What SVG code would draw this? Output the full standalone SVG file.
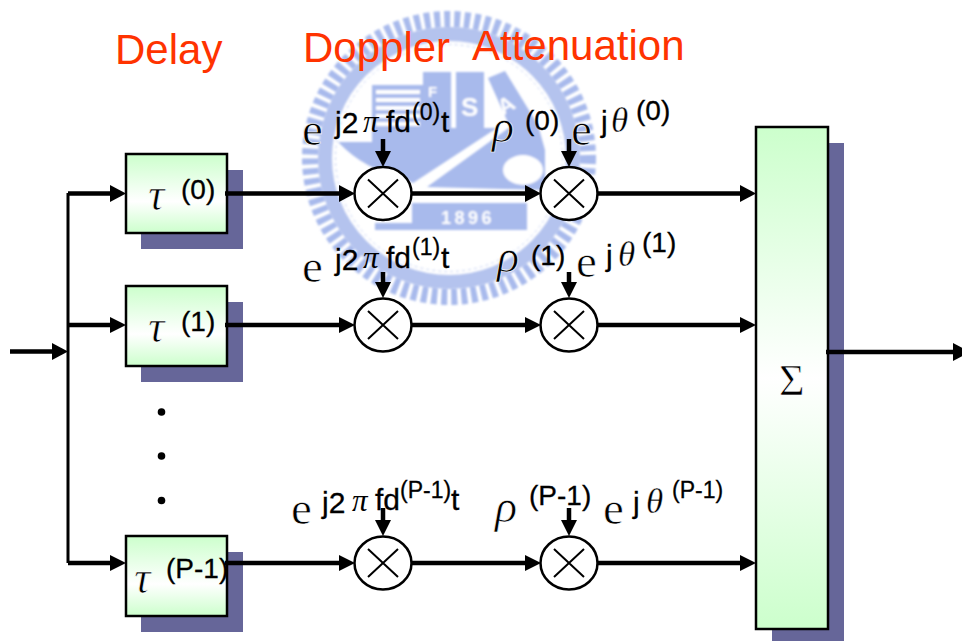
<svg xmlns="http://www.w3.org/2000/svg" width="962" height="641" viewBox="0 0 962 641">
<defs>
<linearGradient id="g" x1="0" y1="0" x2="0" y2="1"><stop offset="0" stop-color="#ccffcc"/><stop offset="0.6" stop-color="#ffffff"/><stop offset="1" stop-color="#ccffcc"/></linearGradient>
<linearGradient id="gs" x1="0" y1="0" x2="0" y2="1"><stop offset="0" stop-color="#ccffcc"/><stop offset="0.5" stop-color="#ffffff"/><stop offset="1" stop-color="#ccffcc"/></linearGradient>
<filter id="soft" x="-5%" y="-5%" width="110%" height="110%"><feGaussianBlur stdDeviation="0.9"/></filter>
<g id="mul"><ellipse cx="0" cy="0" rx="28.5" ry="26.5" fill="#fff" stroke="#000" stroke-width="2.5"/><path d="M-15,-14L15,14M15,-14L-15,14" stroke="#000" stroke-width="2" fill="none"/></g>
</defs>
<style>
.w{fill:#a8baec}
.shadow{fill:#666699}
.box{stroke:#000;stroke-width:2.5}
.c{stroke:#000;stroke-width:4.5;fill:none}
.ar{fill:#000}
.t{font-family:"Liberation Sans",Arial,sans-serif;fill:#000;stroke:#000;stroke-width:0.3px}
.s{font-size:30px}
.u{font-size:28px}
.n{font-size:23px}
.m{font-family:"Liberation Serif","DejaVu Serif",serif;fill:#000;stroke:#fff;stroke-width:0.7px}
.e{font-size:47px}
.g{font-style:italic;font-size:46px}
.th{font-style:italic;font-size:35px;stroke-width:0.3px}
.p{font-style:italic;font-size:31px;stroke:none}
.h{font-family:"Liberation Sans",Arial,sans-serif;font-size:42px;fill:#ff3300}
.wt{font-family:"Liberation Sans",Arial,sans-serif;font-weight:bold;fill:#fff}
</style>
<g id="watermark" filter="url(#soft)">
<circle cx="449" cy="158" r="139" fill="none" stroke="#a8baec" stroke-width="16" stroke-dasharray="6 4"/>
<circle cx="449" cy="158" r="124" fill="none" stroke="#b4c3ee" stroke-width="14"/>
<circle cx="449" cy="158" r="113.500" fill="none" stroke="#c4d0f2" stroke-width="1" stroke-dasharray="3 3"/>
<path class="w" d="M338,142H372V85H423V72H451V128H497L413,183L400,176Q365,170 338,142Z"/>
<g fill="#fff"><rect x="376" y="90" width="44" height="4"/><rect x="376" y="98" width="44" height="4"/><rect x="376" y="106" width="44" height="4"/><rect x="376" y="114" width="44" height="4"/><rect x="376" y="122" width="44" height="4"/></g>
<rect class="w" x="456" y="72" width="28" height="56"/>
<path class="w" d="M427,187L510,127L488,78L505,71L538,125L545,150L545,190Z"/>
<ellipse cx="523" cy="170" rx="20" ry="15" fill="#fff"/>
<path class="w" d="M412,203H527V230H375V223H412Z"/>
<text class="wt" x="428" y="97" font-size="15">F</text>
<text class="wt" x="461" y="116" font-size="26">S</text>
<text class="wt" x="498" y="113" font-size="22" transform="rotate(-30 505 105)">A</text>
<text class="wt" x="441" y="224" font-size="18" letter-spacing="3.500">1896</text>
</g>
<g id="connectors">
<path class="c" d="M10,351.500H56M68,193.500H114M68,325H114M68,563H114M225,193.500H341M225,325H341M225,563H341M412,193.500H527M412,325H527M412,563H527M598,193.500H742M598,325H742M598,563H742M826,352H955"/>
<path d="M68,193V563" stroke="#000" stroke-width="3" fill="none"/>
<path class="c" d="M383,139V155M569,139V155M383,272V286M569,272V286M383,508V524M569,508V524"/>
<g class="ar">
<path d="M52,343L68,351.500L52,360Z"/>
<path d="M110,185L126,193.500L110,202Z"/><path d="M110,317L126,325L110,333Z"/><path d="M110,555L126,563L110,571Z"/>
<path d="M339,185L355,193.500L339,202Z"/><path d="M339,317L355,325L339,333Z"/><path d="M339,555L355,563L339,571Z"/>
<path d="M525,185L541,193.500L525,202Z"/><path d="M525,317L541,325L525,333Z"/><path d="M525,555L541,563L525,571Z"/>
<path d="M740,185L756,193.500L740,202Z"/><path d="M740,317L756,325L740,333Z"/><path d="M740,555L756,563L740,571Z"/>
<path d="M953,343L970,352L953,361Z"/>
<path d="M375,151L391,151L383,167Z"/><path d="M561,151L577,151L569,167Z"/>
<path d="M375,282L391,282L383,298Z"/><path d="M561,282L577,282L569,298Z"/>
<path d="M375,520L391,520L383,536Z"/><path d="M561,520L577,520L569,536Z"/>
</g>
</g>
<g id="delay0"><rect class="shadow" x="141" y="170" width="102" height="79"/><rect class="box" fill="url(#g)" x="126" y="154" width="101" height="79"/></g>
<g id="delay1"><rect class="shadow" x="141" y="302" width="102" height="80"/><rect class="box" fill="url(#g)" x="126" y="286" width="101" height="80"/></g>
<g id="delayP"><rect class="shadow" x="141" y="552" width="102" height="80"/><rect class="box" fill="url(#g)" x="126" y="536" width="101" height="80"/></g>
<path class="c" d="M225,193.500H243M225,325H243M225,563H243"/>
<g id="sum"><rect class="shadow" x="772" y="143" width="72" height="498"/><rect class="box" fill="url(#gs)" x="756" y="127" width="72" height="502"/></g>
<path class="c" d="M826,352H844"/>
<g id="mul-0-0"><use href="#mul" x="383" y="193.500"/></g>
<g id="mul-0-1"><use href="#mul" x="569" y="193.500"/></g>
<g id="mul-1-0"><use href="#mul" x="383" y="325"/></g>
<g id="mul-1-1"><use href="#mul" x="569" y="325"/></g>
<g id="mul-2-0"><use href="#mul" x="383" y="563"/></g>
<g id="mul-2-1"><use href="#mul" x="569" y="563"/></g>
<g id="headers">
<text class="h" x="115" y="64">Delay</text>
<text class="h" x="303" y="62">Doppler</text>
<text class="h" x="472" y="60">Attenuation</text>
</g>
<g id="dots" fill="#000"><circle cx="161.500" cy="412" r="3.800"/><circle cx="161.500" cy="456" r="3.800"/><circle cx="161.500" cy="500.500" r="3.800"/></g>
<g id="labels">
<text class="m g" x="148" y="210">τ</text><text class="t u" x="181" y="199">(0)</text>
<text class="m g" x="148" y="342">τ</text><text class="t u" x="181" y="331">(1)</text>
<text class="m g" x="134" y="593">τ</text><text class="t u" x="166" y="578">(P-1)</text>
<text class="m e" x="302" y="145">e</text><text class="t s" x="335" y="133">j2</text><text class="m p" x="363" y="132">π</text><text class="t s" x="386" y="132">fd</text><text class="t n" x="412" y="120">(0)</text><text class="t s" x="441" y="132">t</text>
<text class="m g" x="492" y="142">ρ</text><text class="t u" x="525" y="130">(0)</text><text class="m e" x="571" y="145">e</text><text class="t s" x="601" y="132">j</text><text class="m th" x="611" y="132">θ</text><text class="t u" x="636" y="120">(0)</text>
<text class="m e" x="302" y="282">e</text><text class="t s" x="335" y="270">j2</text><text class="m p" x="363" y="268">π</text><text class="t s" x="386" y="268">fd</text><text class="t n" x="412" y="255">(1)</text><text class="t s" x="441" y="268">t</text>
<text class="m g" x="497" y="272">ρ</text><text class="t u" x="531" y="265">(1)</text><text class="m e" x="576" y="277">e</text><text class="t s" x="606" y="266">j</text><text class="m th" x="618" y="266">θ</text><text class="t u" x="642" y="252">(1)</text>
<text class="m e" x="291" y="524">e</text><text class="t s" x="322" y="513">j2</text><text class="m p" x="352" y="511">π</text><text class="t s" x="375" y="510">fd</text><text class="t n" x="400" y="498">(P-1)</text><text class="t s" x="451" y="510">t</text>
<text class="m g" x="495" y="522">ρ</text><text class="t u" x="529" y="505">(P-1)</text><text class="m e" x="603" y="524">e</text><text class="t s" x="633" y="513">j</text><text class="m th" x="646" y="513">θ</text><text class="t n" x="672" y="498">(P-1)</text>
<text class="m" style="font-size:44px" x="779" y="395">Σ</text>
</g>
</svg>
